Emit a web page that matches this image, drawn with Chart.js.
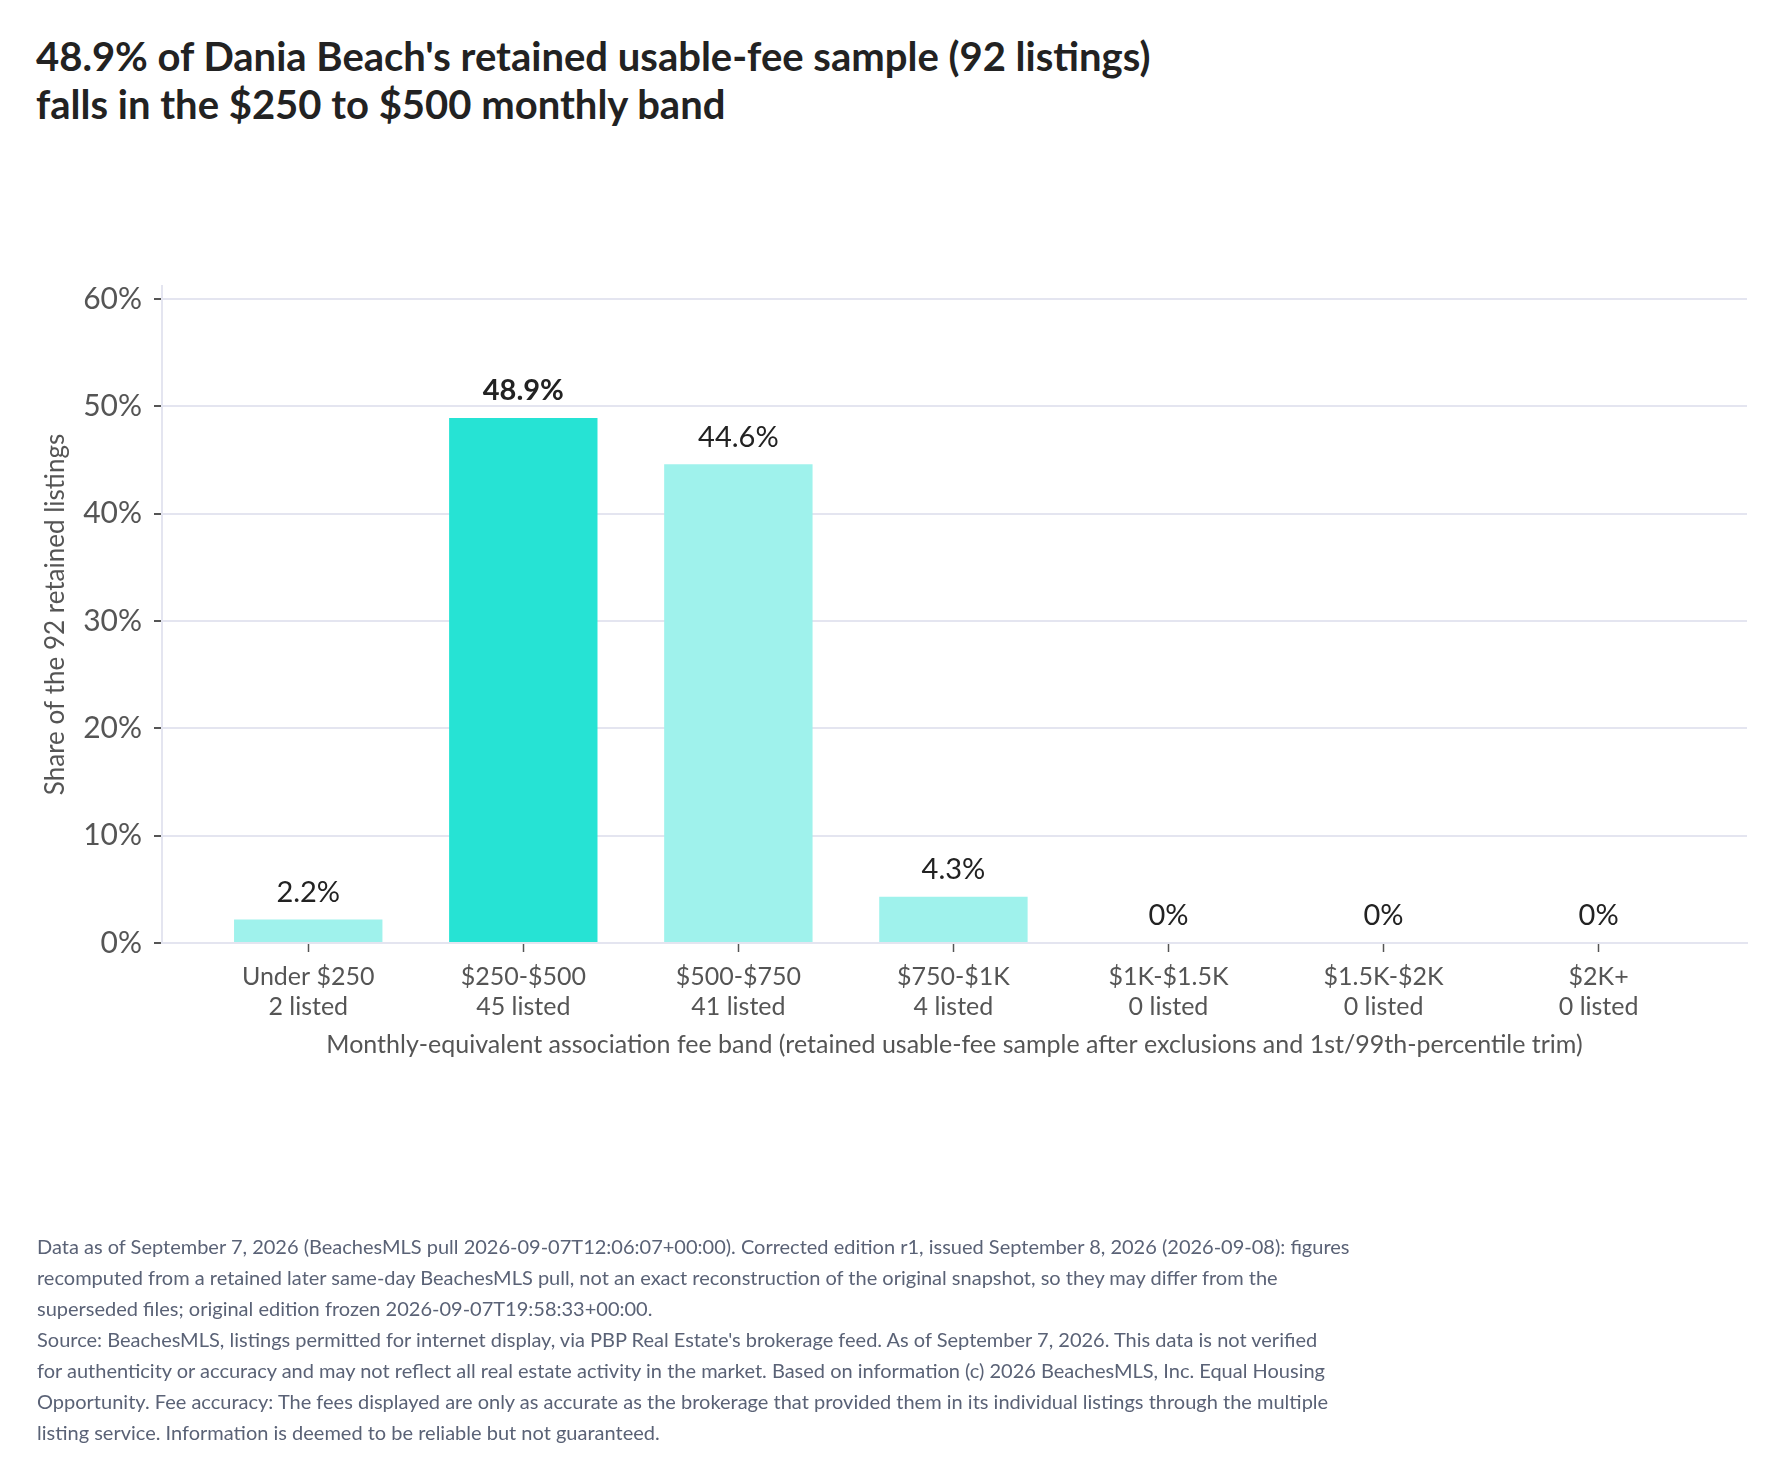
<!DOCTYPE html>
<html>
<head>
<meta charset="utf-8">
<script src="https://cdn.jsdelivr.net/npm/chart.js@4.4.1/dist/chart.umd.min.js"></script>
<style>
    html, body { margin: 0; padding: 0; background: #ffffff; }
    body { width: 1782px; height: 1477px; position: relative; overflow: hidden; font-family: Lato, "Noto Sans", sans-serif; }
    #chartCanvas { position: absolute; left: 0; top: 0; }
    .title { position: absolute; left: 36px; top: 32px; font-size: 40px; line-height: 48px; font-weight: 700; color: #222222; }
    .footer { position: absolute; left: 37px; top: 1231px; font-size: 20px; line-height: 31px; color: #5a6276; }
</style>
</head>
<body>
<div class="title">48.9% of Dania Beach's retained usable-fee sample (92 listings)<br>falls in the $250 to $500 monthly band</div>
<canvas id="chartCanvas" width="1782" height="1477"></canvas>
<div class="footer">
    Data as of September 7, 2026 (BeachesMLS pull 2026-09-07T12:06:07+00:00). Corrected edition r1, issued September 8, 2026 (2026-09-08): figures<br>
    recomputed from a retained later same-day BeachesMLS pull, not an exact reconstruction of the original snapshot, so they may differ from the<br>
    superseded files; original edition frozen 2026-09-07T19:58:33+00:00.<br>
    Source: BeachesMLS, listings permitted for internet display, via PBP Real Estate's brokerage feed. As of September 7, 2026. This data is not verified<br>
    for authenticity or accuracy and may not reflect all real estate activity in the market. Based on information (c) 2026 BeachesMLS, Inc. Equal Housing<br>
    Opportunity. Fee accuracy: The fees displayed are only as accurate as the brokerage that provided them in its individual listings through the multiple<br>
    listing service. Information is deemed to be reliable but not guaranteed.
</div>
<script>
// данные графика
const feeBands = ['Under $250', '$250-$500', '$500-$750', '$750-$1K', '$1K-$1.5K', '$1.5K-$2K', '$2K+'];
const listedCounts = [2, 45, 41, 4, 0, 0, 0];
const sharePercent = [2.2, 48.9, 44.6, 4.3, 0, 0, 0];
const shareLabels = ['2.2%', '48.9%', '44.6%', '4.3%', '0%', '0%', '0%'];
const yTickValues = [0, 10, 20, 30, 40, 50, 60];
const highlightIndex = 1;

const HIGHLIGHT_COLOR = '#26e3d4';
const BAR_COLOR = '#9ff2ec';
const GRID_COLOR = '#e4e5f0';
const TICK_COLOR = '#555555';

// подписи значений над столбцами
const valueLabelPlugin = {
    id: 'valueLabels',
    afterDatasetsDraw(chart) {
        const ctx = chart.ctx;
        const meta = chart.getDatasetMeta(0);
        ctx.save();
        ctx.textAlign = 'center';
        ctx.textBaseline = 'middle';
        ctx.fillStyle = '#222222';
        meta.data.forEach((bar, i) => {
            const weight = i === highlightIndex ? '700' : '400';
            ctx.font = `${weight} 29px Lato`;
            ctx.fillText(shareLabels[i], bar.x, bar.y - 27);
        });
        ctx.restore();
    }
};

const points = sharePercent.map((v, i) => ({ x: i, y: v }));
const barColors = sharePercent.map((v, i) => i === highlightIndex ? HIGHLIGHT_COLOR : BAR_COLOR);

const ctx = document.getElementById('chartCanvas').getContext('2d');
new Chart(ctx, {
    type: 'bar',
    data: {
        datasets: [{
            data: points,
            backgroundColor: barColors,
            borderWidth: 0,
            barPercentage: 0.69,
            categoryPercentage: 1
        }]
    },
    options: {
        responsive: false,
        animation: false,
        layout: { padding: { left: 0, top: 286, right: 35, bottom: 417 } },
        plugins: {
            legend: { display: false },
            tooltip: { enabled: false }
        },
        scales: {
            x: {
                type: 'linear',
                min: -0.68,
                max: 6.69,
                offset: false,
                afterBuildTicks(scale) {
                    scale.ticks = feeBands.map((b, i) => ({ value: i }));
                },
                afterFit(scale) { scale.height = 117; },
                ticks: {
                    autoSkip: false,
                    maxRotation: 0,
                    padding: 10,
                    color: TICK_COLOR,
                    font: { family: 'Lato', size: 25, lineHeight: 1.2 },
                    callback: (value) => [feeBands[value], `${listedCounts[value]} listed`]
                },
                grid: {
                    offset: false,
                    drawOnChartArea: false,
                    tickLength: 9,
                    tickColor: TICK_COLOR,
                    tickWidth: 1.5
                },
                border: { color: GRID_COLOR, width: 2 },
                title: {
                    display: true,
                    text: 'Monthly-equivalent association fee band (retained usable-fee sample after exclusions and 1st/99th-percentile trim)',
                    color: TICK_COLOR,
                    font: { family: 'Lato', size: 25 },
                    padding: 0
                }
            },
            y: {
                min: 0,
                max: 61.2,
                afterBuildTicks(scale) {
                    scale.ticks = yTickValues.map(v => ({ value: v }));
                },
                afterFit(scale) { scale.width = 162; },
                ticks: {
                    padding: 12,
                    color: TICK_COLOR,
                    font: { family: 'Lato', size: 30 },
                    callback: (value) => `${value}%`
                },
                grid: {
                    color: GRID_COLOR,
                    lineWidth: 2,
                    tickLength: 8,
                    tickColor: TICK_COLOR,
                    tickWidth: 2
                },
                border: { color: GRID_COLOR, width: 2 },
                title: {
                    display: true,
                    text: 'Share of the 92 retained listings',
                    color: TICK_COLOR,
                    font: { family: 'Lato', size: 26 },
                    padding: { top: 40, bottom: 0 }
                }
            }
        }
    },
    plugins: [valueLabelPlugin]
});
</script>
</body>
</html>
